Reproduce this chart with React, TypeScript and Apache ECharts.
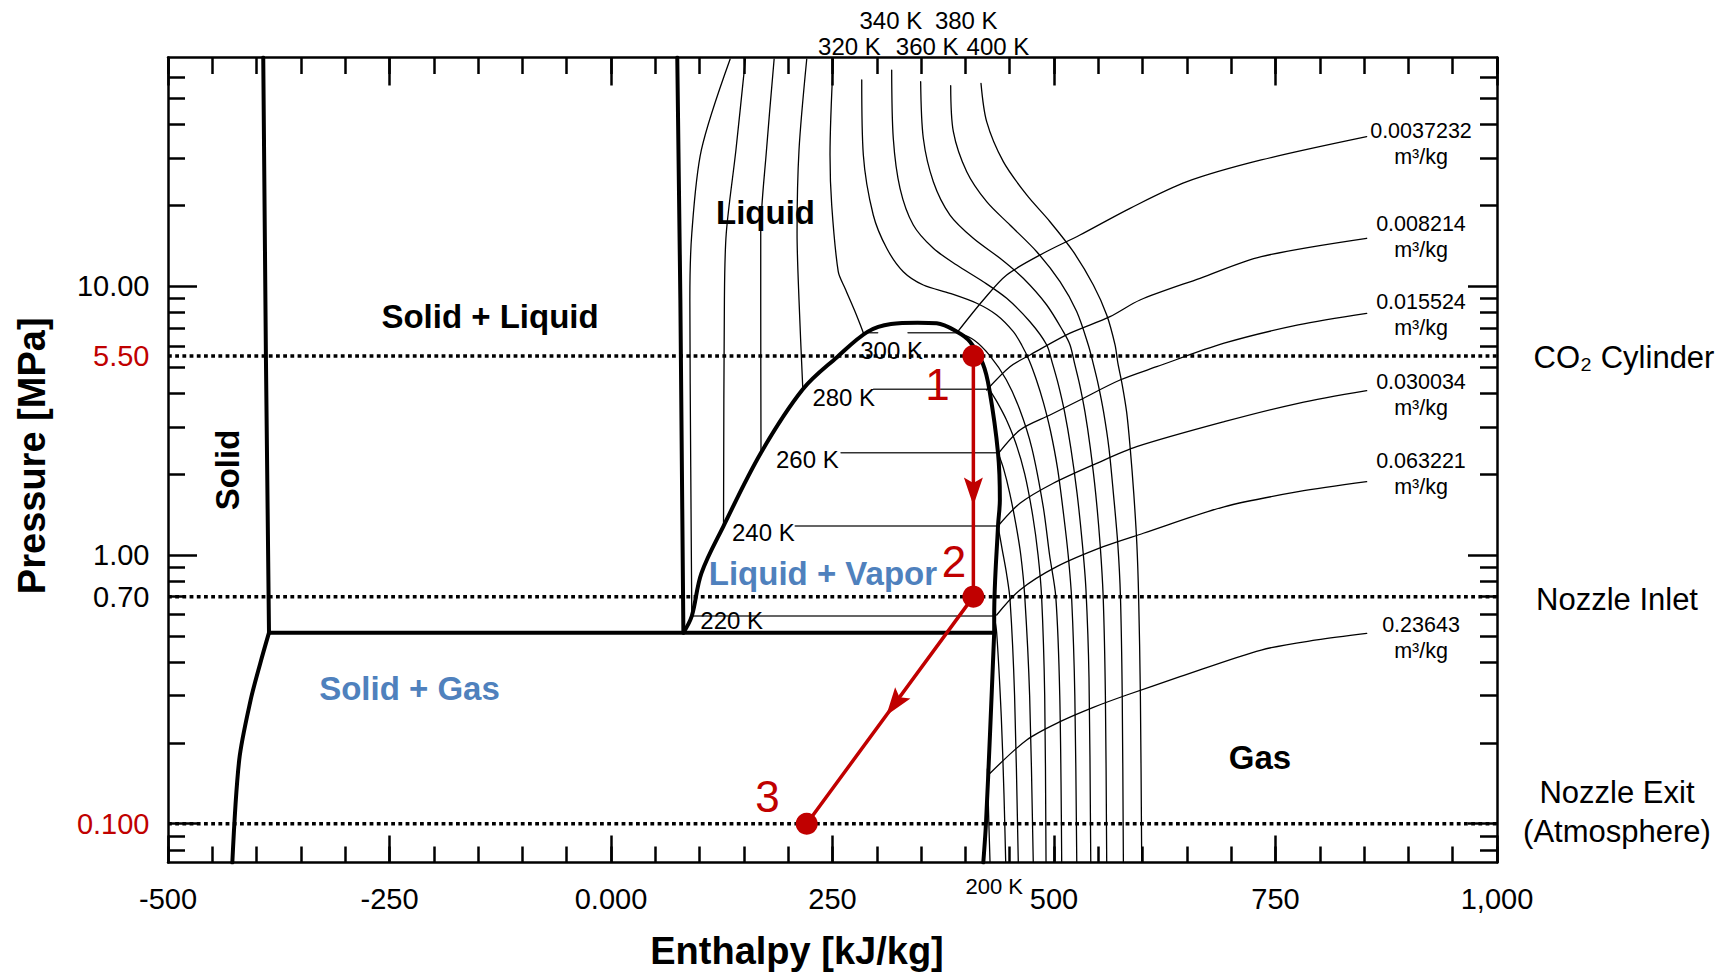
import React, { useEffect, useRef } from "react";
import * as echarts from "echarts";

const FONT = "'Liberation Sans', Arial, Helvetica, sans-serif";
const RED = "#c00000";
const BLUE = "#4f81bd";

// ---------- axes ----------
const enthalpyMin = -500;
const enthalpyMax = 1000;
const pressureMin = 0.07173;
const pressureMax = 71.03;

const xTickValues = [-500, -250, 0, 250, 500, 750, 1000];
const xTickLabels = ["-500", "-250", "0.000", "250", "500", "750", "1,000"];
const yLabelValues = [0.1, 0.7, 1, 5.5, 10];
const yLabelTexts = ["0.100", "0.70", "1.00", "5.50", "10.00"];
const yLabelIsRed = [true, false, false, true, false];
const yMajorTicks = [0.1, 1, 10];
const yMinorTicks = [0.08, 0.09, 0.2, 0.3, 0.4, 0.5, 0.6, 0.7, 0.8, 0.9, 2, 3, 4, 5, 6, 7, 8, 9, 20, 30, 40, 50, 60];

// ---------- phase boundaries [h kJ/kg, p MPa] ----------
const solidMeltLine = [[-392.5, 71.0], [-389.5, 5.5], [-386.0, 0.514]];
const liquidMeltLine = [[74.8, 71.0], [78.3, 8.89], [81.7, 0.514]];
const sublimationSolid = [[-386.0, 0.514], [-395.9, 0.395], [-406.7, 0.289], [-419.6, 0.173], [-427.4, 0.0717]];
const sublimationVapor = [[432.5, 0.514], [427.8, 0.217], [423.2, 0.1], [420.2, 0.0717]];
const tripleLine = [[-386.0, 0.514], [432.5, 0.514]];
const saturationDome = [
  [81.7, 0.514], [91.2, 0.593], [102.0, 0.855], [127.0, 1.282], [169.3, 2.403], [216.5, 4.137],
  [255.4, 5.46], [289.9, 6.78], [316.0, 7.24], [346.0, 7.32], [367.6, 7.28], [391.4, 6.75],
  [405.2, 6.22], [419.5, 5.17], [427.0, 4.137], [436.8, 2.403], [438.9, 1.602], [436.8, 1.282],
  [432.5, 0.593], [432.5, 0.514],
];

// ---------- isotherms ----------
const twoPhase300a = [[284.8, 6.72], [300.9, 6.72]];
const twoPhase300b = [[335.3, 6.72], [391.4, 6.72]];
const twoPhase280 = [[296.4, 4.137], [427.0, 4.137]];
const twoPhase260 = [[259.7, 2.403], [436.8, 2.403]];
const twoPhase240 = [[208.0, 1.282], [436.8, 1.282]];
const twoPhase220 = [[91.2, 0.593], [432.5, 0.593]];

const liquid220 = [[134.4, 70], [102.0, 32.16], [91.2, 15.75], [89.0, 8.89], [90.0, 2.13], [91.2, 0.593]];
const liquid240 = [[151.7, 70], [141.0, 32.16], [130.1, 15.75], [128.0, 8.89], [127.0, 1.282]];
const liquid260 = [[184.1, 70], [175.5, 32.16], [169.0, 15.75], [169.0, 8.89], [169.3, 2.403]];
const liquid280 = [[220.9, 70], [212.2, 32.16], [210.0, 15.75], [212.2, 8.89], [216.5, 4.137]];
const liquid300 = [[250.9, 70], [247.2, 30.8], [249.1, 20.07], [256.5, 11.33], [264.1, 9.83], [275.4, 8.05], [284.8, 6.72]];

const gas200 = [[424.8, 0.16], [426.5, 0.1], [427.8, 0.0717]];
const gas220 = [[432.5, 0.593], [435.3, 0.514], [440.5, 0.25], [443.5, 0.13], [445.5, 0.0717]];
const gas240 = [[436.8, 1.282], [441.5, 1.05], [446.5, 0.85], [450.4, 0.68], [455.5, 0.3], [459.7, 0.0717]];
const gas260 = [[436.8, 2.403], [443.0, 2.1], [450.0, 1.7], [457.0, 1.3], [462.5, 1.0], [467.0, 0.7], [472.5, 0.3], [476.6, 0.0717]];
const gas280 = [[427.0, 4.137], [436.0, 3.7], [446.0, 3.2], [457.0, 2.6], [467.0, 2.0], [476.0, 1.4], [482.0, 1.0], [486.0, 0.7], [489.5, 0.3], [491.0, 0.0717]];
const gas300 = [[391.4, 6.72], [410.0, 6.3], [428.0, 5.5], [446.0, 4.5], [461.0, 3.5], [475.0, 2.5], [488.0, 1.5], [495.0, 1.0], [502.0, 0.7], [506.5, 0.3], [508.7, 0.0717]];
const iso320 = [
  [283.0, 58.6], [284.8, 30.8], [296.0, 18.42], [311.2, 13.85], [329.9, 11.33], [352.5, 10.11], [382.6, 9.42],
  [412.8, 8.65], [435.3, 7.82], [454.1, 6.78], [463.5, 6.05], [472.0, 5.3], [480.0, 4.5], [488.0, 3.7],
  [496.0, 2.9], [504.0, 2.1], [511.0, 1.4], [516.0, 1.0], [520.0, 0.68], [523.5, 0.3], [525.7, 0.0717],
];
const iso340 = [
  [316.8, 63.8], [318.6, 35.55], [326.2, 23.16], [341.2, 16.91], [363.8, 13.85], [390.2, 12.0], [420.2, 10.4],
  [446.6, 9.02], [472.9, 7.38], [491.8, 6.05], [498.0, 5.2], [505.0, 4.3], [512.0, 3.4], [519.0, 2.5],
  [526.0, 1.7], [532.0, 1.1], [536.0, 0.75], [539.5, 0.35], [541.5, 0.0717],
];
const iso360 = [
  [349.5, 57.7], [352.5, 35.55], [363.8, 24.51], [382.6, 18.42], [408.9, 15.09], [439.1, 12.71], [465.3, 10.71],
  [491.8, 8.52], [510.5, 6.78], [518.1, 6.05], [523.0, 5.2], [529.0, 4.3], [535.0, 3.4], [541.0, 2.5],
  [547.0, 1.7], [552.0, 1.1], [555.5, 0.7], [558.0, 0.3], [559.5, 0.0717],
];
const iso380 = [
  [383.4, 55.8], [386.4, 37.62], [401.5, 26.7], [424.0, 20.65], [450.3, 16.91], [480.5, 13.45], [506.8, 10.4],
  [525.6, 8.05], [538.7, 6.05], [544.0, 5.2], [550.0, 4.3], [556.0, 3.4], [562.0, 2.5], [567.0, 1.7],
  [572.0, 1.1], [575.0, 0.7], [577.0, 0.3], [578.3, 0.0717],
];
const iso400 = [
  [417.6, 56.9], [424.0, 40.98], [442.8, 29.09], [469.2, 21.87], [495.5, 17.39], [521.8, 13.45], [544.4, 10.11],
  [559.5, 7.82], [568.9, 6.05], [572.0, 5.2], [577.0, 4.3], [582.0, 3.4], [586.0, 2.5], [590.0, 1.7],
  [593.5, 1.1], [595.5, 0.7], [597.5, 0.3], [599.0, 0.0717],
];

// ---------- isochores ----------
const isochore0037232 = [[391.4, 6.78], [420.2, 8.89], [446.6, 11.02], [487.9, 13.27], [529.3, 15.52], [585.8, 19.51], [650.1, 24.51], [733.9, 29.52], [852.9, 36.05]];
const isochore008214 = [[424.0, 4.11], [450.3, 5.02], [472.9, 5.55], [518.1, 6.69], [563.2, 7.71], [597.1, 8.89], [664.8, 10.71], [733.9, 12.89], [852.9, 15.09]];
const isochore015524 = [[437.9, 2.403], [461.6, 2.919], [495.5, 3.319], [529.3, 3.775], [574.5, 4.48], [615.9, 5.02], [692.0, 6.14], [775.6, 7.18], [852.9, 7.93]];
const isochore030034 = [[436.8, 1.282], [461.6, 1.557], [499.2, 1.849], [548.2, 2.194], [593.3, 2.53], [692.0, 3.134], [775.6, 3.67], [852.9, 4.09]];
const isochore063221 = [[435.3, 0.598], [461.6, 0.741], [503.1, 0.905], [555.6, 1.074], [600.8, 1.205], [692.0, 1.512], [775.6, 1.72], [852.9, 1.874]];
const isochore23643 = [[427.8, 0.154], [469.2, 0.205], [506.8, 0.2397], [544.4, 0.2711], [582.1, 0.3013], [642.2, 0.3524], [733.9, 0.443], [796.5, 0.483], [852.9, 0.511]];

const isochoreLabels = ["0.0037232", "0.008214", "0.015524", "0.030034", "0.063221", "0.23643"];

// ---------- process ----------
const stateLevels = [5.5, 0.7, 0.1];
const processStates = [[409, 5.5], [409, 0.7], [220.9, 0.1]];
// arrow position [h, p, from state index, to state index]
const processArrows = [[409, 1.723, 0, 1], [320, 0.2787, 1, 2]];
const stateNames = ["1", "2", "3"];

const toLog = (pts: number[][]) => pts.map(([h, p]) => [h, Math.log10(p)]);

function lineSeries(data: number[][], width: number, color: string, smooth: number | boolean, z = 3, extra: any = {}) {
  return {
    type: "line",
    data: toLog(data),
    xAxisIndex: 0,
    yAxisIndex: 0,
    showSymbol: false,
    symbol: "none",
    smooth,
    silent: true,
    z,
    lineStyle: { width, color, cap: "round", join: "round", ...extra },
  };
}

function txt(text: string, x: number, y: number, size: number, opts: any = {}) {
  const align = opts.align || "center";
  return {
    type: "text",
    x,
    y,
    rotation: opts.rotation || 0,
    silent: true,
    z: 100,
    style: {
      text,
      fill: opts.color || "#000",
      font: `${opts.weight || "normal"} ${size}px ${FONT}`,
      align,
      textAlign: align,
      verticalAlign: "middle",
      textVerticalAlign: "middle",
      lineHeight: opts.lineHeight,
    },
  };
}

export default function App() {
  const ref = useRef<HTMLDivElement>(null);
  useEffect(() => {
    if (!ref.current) return;
    document.body.style.margin = "0";
    document.body.style.overflow = "hidden";
    const chart = echarts.init(ref.current, null, { renderer: "svg" });

    const yMin = Math.log10(pressureMin);
    const yMax = Math.log10(pressureMax);
    const tickBase = { show: true, inside: true, lineStyle: { color: "#000", width: 2.5 } };
    const axisLineStyle = { show: true, onZero: false, lineStyle: { color: "#000", width: 2.5 } };
    const noAxisLine = { show: false, onZero: false };
    const labelFont = { fontFamily: FONT, fontSize: 29, color: "#000" };

    const xAxisCommon = { type: "value", min: enthalpyMin, max: enthalpyMax, splitLine: { show: false } };
    const yAxisCommon = { type: "value", min: yMin, max: yMax, splitLine: { show: false } };

    const yLabelFormatter = (v: number) => {
      let best = 0;
      let bd = Infinity;
      yLabelValues.forEach((lv, i) => {
        const d = Math.abs(Math.log10(lv) - v);
        if (d < bd) { bd = d; best = i; }
      });
      return yLabelIsRed[best] ? `{r|${yLabelTexts[best]}}` : yLabelTexts[best];
    };

    const stateLog = toLog(processStates);

    const series: any[] = [
      ...stateLevels.map((p) =>
        lineSeries([[enthalpyMin, p], [enthalpyMax, p]], 3.5, "#000", false, 2, { type: [3.8, 3.4], cap: "butt" })
      ),
      ...[twoPhase300a, twoPhase300b, twoPhase280, twoPhase260, twoPhase240, twoPhase220].map((d) =>
        lineSeries(d, 1.6, "#333", false, 3)
      ),
      ...[liquid220, liquid240, liquid260, liquid280, liquid300].map((d) => lineSeries(d, 1.3, "#000", 0.3, 3)),
      ...[gas200, gas220, gas240, gas260, gas280, gas300, iso320, iso340, iso360, iso380, iso400].map((d) =>
        lineSeries(d, 1.3, "#000", 0.3, 3)
      ),
      ...[isochore0037232, isochore008214, isochore015524, isochore030034, isochore063221, isochore23643].map((d) =>
        lineSeries(d, 1.3, "#000", 0.3, 3)
      ),
      lineSeries(solidMeltLine, 4, "#000", false, 5),
      lineSeries(liquidMeltLine, 4, "#000", false, 5),
      lineSeries(sublimationSolid, 4, "#000", 0.3, 5),
      lineSeries(sublimationVapor, 4, "#000", 0.3, 5),
      lineSeries(tripleLine, 4, "#000", false, 5),
      lineSeries(saturationDome, 4, "#000", 0.35, 5),
      {
        type: "line",
        data: stateLog,
        xAxisIndex: 0,
        yAxisIndex: 0,
        silent: true,
        z: 10,
        symbol: "circle",
        symbolSize: 22,
        showSymbol: true,
        showAllSymbol: true,
        itemStyle: { color: RED },
        lineStyle: { width: 3.5, color: RED },
      },
      {
        type: "custom",
        xAxisIndex: 0,
        yAxisIndex: 0,
        silent: true,
        z: 11,
        data: processArrows.map(([h, p, i0, i1]) => [h, Math.log10(p), i0, i1]),
        encode: { x: 0, y: 1 },
        renderItem: (params: any, api: any) => {
          const c = api.coord([api.value(0), api.value(1)]);
          const a = api.coord(stateLog[api.value(2)]);
          const b = api.coord(stateLog[api.value(3)]);
          const dx = b[0] - a[0];
          const dy = b[1] - a[1];
          const len = Math.hypot(dx, dy) || 1;
          const ux = dx / len;
          const uy = dy / len;
          const px = -uy;
          const py = ux;
          const H = 28;
          const W = 19;
          const tip = [c[0] + (ux * H) / 2, c[1] + (uy * H) / 2];
          const back = [c[0] - (ux * H) / 2, c[1] - (uy * H) / 2];
          const notch = [c[0] - ux * H * 0.3, c[1] - uy * H * 0.3];
          const left = [back[0] + (px * W) / 2, back[1] + (py * W) / 2];
          const right = [back[0] - (px * W) / 2, back[1] - (py * W) / 2];
          return {
            type: "polygon",
            shape: { points: [tip, left, notch, right] },
            style: { fill: RED },
          };
        },
      },
    ];

    const graphics: any[] = [
      txt("Solid + Liquid", 490, 316.7, 33, { weight: "bold" }),
      txt("Liquid", 765.5, 212, 33, { weight: "bold" }),
      txt("Solid", 227.5, 470, 33, { weight: "bold", rotation: Math.PI / 2 }),
      txt("Solid + Gas", 409.5, 688.3, 33, { weight: "bold", color: BLUE }),
      txt("Liquid + Vapor", 822.9, 573.7, 33, { weight: "bold", color: BLUE }),
      txt("Gas", 1260, 757.5, 33, { weight: "bold" }),
      txt("Enthalpy [kJ/kg]", 797, 950.8, 38, { weight: "bold" }),
      txt("Pressure [MPa]", 32, 455.8, 38, { weight: "bold", rotation: Math.PI / 2 }),
      txt("CO\u2082 Cylinder", 1624, 357.5, 31),
      txt("Nozzle Inlet", 1617, 599, 31),
      txt("Nozzle Exit", 1617, 792.5, 31),
      txt("(Atmosphere)", 1617, 831, 31),
      txt("300 K", 860.2, 350, 24, { align: "left" }),
      txt("280 K", 812.4, 397.7, 24, { align: "left" }),
      txt("260 K", 776, 459.2, 24, { align: "left" }),
      txt("240 K", 732, 532.8, 24, { align: "left" }),
      txt("220 K", 700.3, 620.5, 24, { align: "left" }),
      txt("340 K", 859.5, 20, 24, { align: "left" }),
      txt("380 K", 934.9, 20, 24, { align: "left" }),
      txt("320 K", 818.1, 46.7, 24, { align: "left" }),
      txt("360 K", 895.8, 46.7, 24, { align: "left" }),
      txt("400 K", 966.6, 46.7, 24, { align: "left" }),
      txt("200 K", 965.5, 886.5, 22, { align: "left" }),
      txt(stateNames[0], 937.5, 384, 44, { color: RED }),
      txt(stateNames[1], 954, 561.7, 44, { color: RED }),
      txt(stateNames[2], 767.5, 796, 44, { color: RED }),
    ];
    const volY = [143.6, 236.8, 315, 395, 473.5, 638.3];
    isochoreLabels.forEach((l, i) => graphics.push(txt(`${l}\nm\u00b3/kg`, 1421, volY[i], 21.5, { lineHeight: 26 })));

    chart.setOption({
      animation: false,
      backgroundColor: "#fff",
      grid: { left: 168, top: 57.5, width: 1329, height: 805, containLabel: false, outerBoundsMode: "none" },
      xAxis: [
        {
          ...xAxisCommon,
          position: "bottom",
          interval: 250,
          axisLine: axisLineStyle,
          axisTick: { ...tickBase, length: 27 },
          axisLabel: {
            ...labelFont,
            margin: 22,
            showMinLabel: true,
            showMaxLabel: true,
            formatter: (v: number) => {
              const i = xTickValues.indexOf(Math.round(v));
              return i >= 0 ? xTickLabels[i] : "";
            },
          },
        },
        { ...xAxisCommon, position: "bottom", interval: 50, axisLine: noAxisLine, axisTick: { ...tickBase, length: 16 }, axisLabel: { show: false } },
        { ...xAxisCommon, position: "top", interval: 250, axisLine: axisLineStyle, axisTick: { ...tickBase, length: 28 }, axisLabel: { show: false } },
        { ...xAxisCommon, position: "top", interval: 50, axisLine: noAxisLine, axisTick: { ...tickBase, length: 16.5 }, axisLabel: { show: false } },
      ],
      yAxis: [
        {
          ...yAxisCommon,
          position: "left",
          axisLine: axisLineStyle,
          axisTick: { ...tickBase, length: 29, customValues: yMajorTicks.map((v) => Math.log10(v)) },
          axisLabel: {
            ...labelFont,
            margin: 18.5,
            customValues: yLabelValues.map((v) => Math.log10(v)),
            formatter: yLabelFormatter,
            rich: { r: { ...labelFont, color: RED } },
          },
        },
        {
          ...yAxisCommon,
          position: "left",
          axisLine: noAxisLine,
          axisTick: { ...tickBase, length: 17, customValues: yMinorTicks.map((v) => Math.log10(v)) },
          axisLabel: { show: false },
        },
        {
          ...yAxisCommon,
          position: "right",
          axisLine: axisLineStyle,
          axisTick: { ...tickBase, length: 29, customValues: yMajorTicks.map((v) => Math.log10(v)) },
          axisLabel: { show: false },
        },
        {
          ...yAxisCommon,
          position: "right",
          axisLine: noAxisLine,
          axisTick: { ...tickBase, length: 17, customValues: yMinorTicks.map((v) => Math.log10(v)) },
          axisLabel: { show: false },
        },
      ],
      series,
      graphic: { elements: graphics },
    });
    return () => chart.dispose();
  }, []);

  return <div ref={ref} style={{ position: "fixed", left: 0, top: 0, width: 1731, height: 976, background: "#fff" }} />;
}
